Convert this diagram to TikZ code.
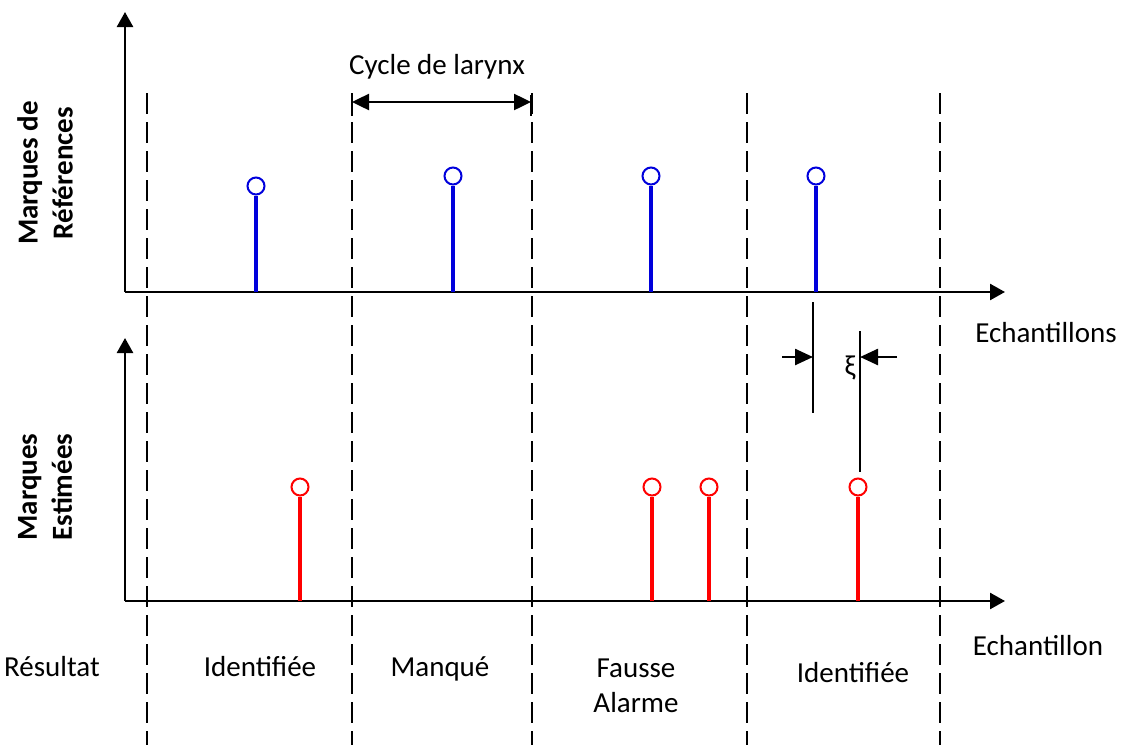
\documentclass[tikz,border=0pt]{standalone}
\usepackage{fontspec}
\setmainfont{Carlito}
\usetikzlibrary{arrows.meta}
\begin{document}
\begin{tikzpicture}[x=1pt,y=-1pt,
  axis/.style={line width=2.5pt,-{Triangle[length=15pt,width=16pt]}},
  divider/.style={line width=2pt,dash pattern=on 21pt off 8pt},
  bluestem/.style={line width=4pt,draw={rgb,255:red,0;green,0;blue,220}},
  redstem/.style={line width=4pt,draw={rgb,255:red,255;green,0;blue,0}},
  bluemark/.style={circle,draw={rgb,255:red,0;green,0;blue,220},line width=2pt,fill=white,inner sep=0pt,minimum size=17pt},
  redmark/.style={circle,draw={rgb,255:red,255;green,0;blue,0},line width=2pt,fill=white,inner sep=0pt,minimum size=17pt},
  lbl/.style={font=\fontsize{29}{35}\selectfont,inner sep=0pt,anchor=base,align=center},
  vlbl/.style={font=\fontsize{29}{35}\selectfont\bfseries,inner sep=0pt,rotate=90,align=center},
  thin/.style={line width=1.8pt},
  small/.style={line width=2.5pt,-{Triangle[length=18pt,width=16pt]}}
]
\useasboundingbox (0,0) rectangle (1127,745);
% axes
\coordinate (o1) at (125,292);
\coordinate (y1) at (125,12);
\coordinate (x1) at (1005,292);
\coordinate (o2) at (125,601);
\coordinate (y2) at (125,338);
\coordinate (x2) at (1005,601);
\draw[axis] (o1) -- (y1);
\draw[axis] (o1) -- (x1);
\draw[axis] (o2) -- (y2);
\draw[axis] (o2) -- (x2);
% dividers
\foreach \n/\x in {a/147,b/352,c/532,d/747,e/940}{
  \coordinate (\n t) at (\x,93);
  \coordinate (\n b) at (\x,745);
  \draw[divider] (\n t) -- (\n b);
}
% cycle arrow
\coordinate (cl) at (352,102);
\coordinate (cr) at (531,102);
\draw[line width=2.5pt] (352,95) -- (352,116);
\draw[line width=2.5pt] (531,95) -- (531,116);
\draw[line width=2.5pt,{Triangle[length=17pt,width=16pt]}-{Triangle[length=17pt,width=16pt]}] (cl) -- (cr);
\node[lbl] (cyc) at (437,74) {Cycle de larynx};
% blue stems
\foreach \n/\x/\y in {1/256/186,2/453/176,3/651/176,4/816/176}{
  \coordinate (bb\n) at (\x,292);
  \node[bluemark] (bm\n) at (\x,\y) {};
  \draw[bluestem] (bb\n) -- (bm\n.south);
}
% red stems
\foreach \n/\x in {1/300,2/652,3/709,4/858}{
  \coordinate (rb\n) at (\x,601);
  \node[redmark] (rm\n) at (\x,487) {};
  \draw[redstem] (rb\n) -- (rm\n.south);
}
% xi
\coordinate (l1) at (813,302);
\coordinate (l2) at (813,413);
\coordinate (r1) at (860,331);
\coordinate (r2) at (860,472);
\draw[thin] (l1) -- (l2);
\draw[thin] (r1) -- (r2);
\coordinate (al) at (782,357);
\coordinate (ar) at (897,357);
\draw[small] (al) -- (l1 |- al);
\draw[small] (ar) -- (r1 |- ar);
\node[font=\fontsize{29}{35}\selectfont,inner sep=0pt] (xi) at (850,368) {ξ};
% labels
\node[vlbl] (vl1) at (45,173) {Marques de\\Références};
\node[vlbl] (vl2) at (45,487) {Marques\\Estimées};
\node[lbl] (ech1) at (1046,342) {Echantillons};
\node[lbl] (ech2) at (1038,655) {Echantillon};
\node[lbl] (res) at (52,676) {Résultat};
\node[lbl] (id1) at (260,676) {Identifiée};
\node[lbl] (man) at (440,676) {Manqué};
\node[lbl] (fa) at (636,712) {Fausse\\Alarme};
\node[lbl] (id2) at (853,682) {Identifiée};
\end{tikzpicture}
\end{document}
